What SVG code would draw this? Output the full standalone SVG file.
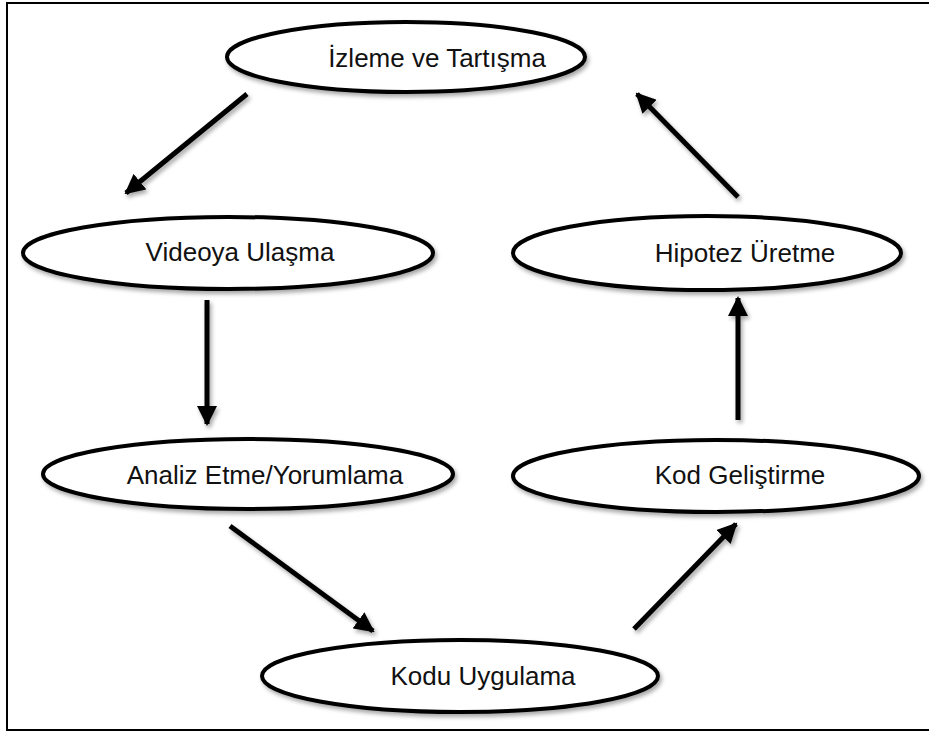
<svg xmlns="http://www.w3.org/2000/svg" width="929" height="731" viewBox="0 0 929 731">
  <defs>
    <filter id="shadow" filterUnits="userSpaceOnUse" x="0" y="0" width="929" height="731">
      <feDropShadow dx="2" dy="3" stdDeviation="2" flood-color="#000" flood-opacity="0.35"/>
    </filter>
    <marker id="head" viewBox="0 0 10 10" refX="9" refY="5" markerWidth="4" markerHeight="4" orient="auto" markerUnits="strokeWidth">
      <path d="M0,0 L10,5 L0,10 z" fill="#000"/>
    </marker>
  </defs>
  <style>
    .node ellipse { fill: #fff; stroke: #000; stroke-width: 4; filter: url(#shadow); }
    .node text { font-family: "Liberation Sans", Arial, sans-serif; font-size: 26px; fill: #111; text-anchor: middle; }
    .edges line { stroke: #000; stroke-width: 5; marker-end: url(#head); filter: url(#shadow); }
  </style>
  <rect x="0" y="0" width="929" height="731" fill="#fff"/>
  <rect x="7" y="3" width="935" height="727" fill="none" stroke="#000" stroke-width="2"/>

  <g class="edges">
    <line x1="247" y1="94" x2="126" y2="193"/>
    <line x1="207" y1="300" x2="207" y2="424"/>
    <line x1="230" y1="526" x2="373" y2="631"/>
    <line x1="634" y1="629" x2="736" y2="524"/>
    <line x1="738" y1="420" x2="738" y2="298"/>
    <line x1="738" y1="197" x2="637" y2="94"/>
  </g>

  <g id="izleme" class="node">
    <ellipse cx="406" cy="57" rx="179" ry="35"/>
    <text x="437" y="67">İzleme ve Tartışma</text>
  </g>
  <g id="videoya" class="node">
    <ellipse cx="228" cy="253" rx="205" ry="36"/>
    <text x="240" y="261">Videoya Ulaşma</text>
  </g>
  <g id="hipotez" class="node">
    <ellipse cx="707" cy="253" rx="194" ry="37"/>
    <text x="745" y="262">Hipotez Üretme</text>
  </g>
  <g id="analiz" class="node">
    <ellipse cx="248" cy="474" rx="205" ry="35"/>
    <text x="265" y="484">Analiz Etme/Yorumlama</text>
  </g>
  <g id="kod" class="node">
    <ellipse cx="716" cy="476" rx="203" ry="36"/>
    <text x="740" y="484">Kod Geliştirme</text>
  </g>
  <g id="kodu" class="node">
    <ellipse cx="460" cy="676" rx="198" ry="36"/>
    <text x="483" y="685">Kodu Uygulama</text>
  </g>
</svg>
